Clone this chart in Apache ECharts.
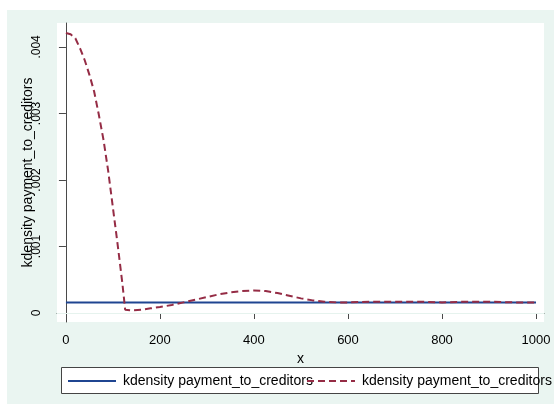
<!DOCTYPE html>
<html>
<head>
<meta charset="utf-8">
<script src="https://cdn.jsdelivr.net/npm/echarts@6/dist/echarts.min.js"></script>
<style>
  html, body { margin: 0; padding: 0; background: #ffffff; }
  #chart { width: 554px; height: 404px; }
</style>
</head>
<body>
<div id="chart"></div>
<script>
// Kernel density estimates of payment_to_creditors
const seriesLabel = 'kdensity payment_to_creditors';

// Flat density (solid navy)
const flatX = [0, 1000];
const flatY = [0.00016, 0.00016];

// Density with a spike near zero (dashed maroon)
const spikeX = [0, 10, 20, 30, 40, 50, 60, 70, 80, 90, 100, 110, 120, 126,
  140, 160, 180, 200, 225, 250, 275, 300, 325, 350, 375, 400, 425, 450, 475,
  500, 525, 550, 575, 600, 650, 700, 750, 800, 850, 900, 950, 1000];
const spikeY = [0.00421, 0.00419, 0.00413, 0.00398, 0.00380, 0.00358, 0.00333,
  0.00298, 0.00260, 0.00213, 0.00158, 0.00103, 0.00045, 0.00005,
  0.00004, 0.00005, 0.00007, 0.00009, 0.00012, 0.00016, 0.00020, 0.00024,
  0.00028, 0.00031, 0.00033, 0.00034, 0.00033, 0.00030, 0.00026, 0.00022,
  0.00019, 0.00017, 0.00016, 0.00016, 0.00017, 0.00017, 0.00017, 0.00016,
  0.00017, 0.00017, 0.00016, 0.00016];

// Axis ticks
const xTicks = [0, 200, 400, 600, 800, 1000];
const yTicks = [0, 0.001, 0.002, 0.003, 0.004];
const yTickLabels = ['0', '.001', '.002', '.003', '.004'];

const pair = (xs, ys) => xs.map((x, i) => [x, ys[i]]);

const FONT = '"Liberation Sans", Arial, sans-serif';
const NAVY = '#1f4591';
const MAROON = '#952c45';

// One legend block per key so both entries sit side by side like Stata's key row
const legendBlock = (name, left) => ({
  left: left, top: 374, z: 10, padding: 0,
  itemWidth: 48, itemHeight: 14,
  formatter: () => seriesLabel,
  itemStyle: { opacity: 0 },
  textStyle: { fontFamily: FONT, fontSize: 14, color: '#000000', padding: [0, 0, 0, 2] },
  data: [name]
});

const chart = echarts.init(document.getElementById('chart'), null, { renderer: 'canvas' });

chart.setOption({
  backgroundColor: '#ffffff',
  animation: false,
  textStyle: { fontFamily: FONT },
  graphic: {
    elements: [
      { type: 'rect', z: -100, silent: true,
        shape: { x: 7, y: 10, width: 547, height: 394 },
        style: { fill: '#eaf5f1' } },
      { type: 'rect', z: 1, silent: true,
        shape: { x: 61.5, y: 367.5, width: 477, height: 26 },
        style: { fill: '#ffffff', stroke: '#444444', lineWidth: 1 } }
    ]
  },
  grid: {
    left: 57, top: 23, right: 10, bottom: 82,
    show: true, backgroundColor: '#ffffff', borderWidth: 0
  },
  legend: [legendBlock('flat', 67), legendBlock('spike', 306)],
  xAxis: {
    type: 'value', min: -19, max: 1017,
    name: 'x', nameLocation: 'middle', nameGap: 20,
    nameTextStyle: { fontFamily: FONT, fontSize: 14, color: '#000000' },
    axisLine: { show: true, lineStyle: { color: '#4a4a4a', width: 1 } },
    axisTick: { show: true, length: 6, customValues: xTicks, lineStyle: { color: '#4a4a4a' } },
    axisLabel: { customValues: xTicks, fontSize: 13, color: '#000000', margin: 12, fontFamily: FONT,
      formatter: v => String(v) },
    splitLine: { show: false }
  },
  yAxis: {
    type: 'value', min: -0.000135, max: 0.00436,
    name: 'kdensity payment_to_creditors', nameLocation: 'middle', nameGap: 22,
    nameMoveOverlap: false,
    nameTextStyle: { fontFamily: FONT, fontSize: 14, color: '#000000' },
    axisLine: { show: true, lineStyle: { color: '#4a4a4a', width: 1 } },
    axisTick: { show: true, length: 7, customValues: yTicks, lineStyle: { color: '#4a4a4a' } },
    axisLabel: {
      customValues: yTicks, rotate: 90, fontSize: 12, color: '#000000', margin: 14, fontFamily: FONT,
      formatter: v => yTickLabels[yTicks.findIndex(t => Math.abs(t - v) < 1e-9)] ?? ''
    },
    splitLine: { show: false }
  },
  series: [
    {
      name: 'flat', type: 'line', symbol: 'none', z: 3,
      data: pair(flatX, flatY),
      lineStyle: { color: NAVY, width: 2 },
      itemStyle: { color: NAVY },
      markLine: {
        silent: true, symbol: 'none', z: 1,
        label: { show: false },
        lineStyle: { color: '#e6f3ee', width: 1, type: 'solid' },
        data: yTicks.map(t => ({ yAxis: t }))
      }
    },
    {
      name: 'spike', type: 'line', symbol: 'none', z: 4,
      data: pair(spikeX, spikeY),
      lineStyle: { color: MAROON, width: 2, type: [7, 4] },
      itemStyle: { color: MAROON }
    }
  ]
});
</script>
</body>
</html>
